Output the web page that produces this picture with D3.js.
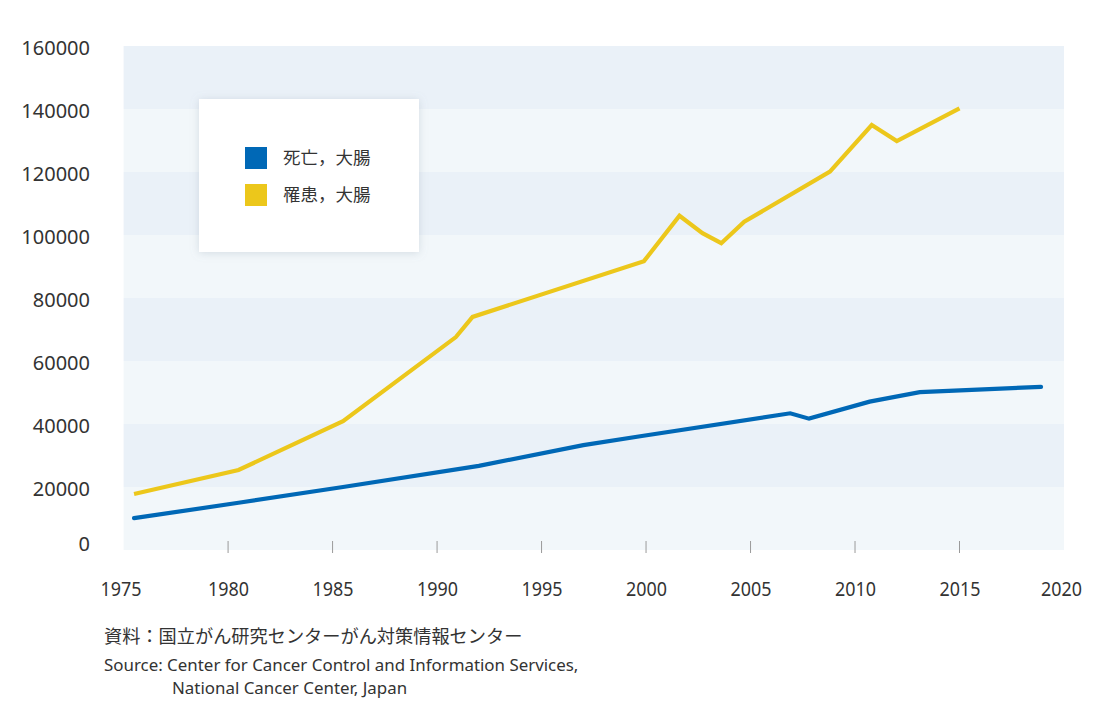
<!DOCTYPE html>
<html>
<head>
<meta charset="utf-8">
<script src="https://cdn.jsdelivr.net/npm/d3@7/dist/d3.min.js"></script>
<style>
  html, body { margin: 0; padding: 0; background: #ffffff; }
  svg { display: block; font-family: "Noto Sans", "Noto Sans CJK JP", sans-serif; }
</style>
</head>
<body>
<svg id="chart" width="1100" height="726"></svg>
<script>
// ---- data ----
const incidenceYears  = [1975.5, 1980.5, 1985.5, 1990.9, 1991.7, 1999.9, 2001.6, 2002.7, 2003.6, 2004.7, 2008.8, 2010.8, 2012.0, 2015.0];
const incidenceValues = [17800, 25400, 40900, 67600, 74000, 91700, 106100, 100600, 97400, 104200, 120100, 134900, 129800, 140200];
const deathYears  = [1975.5, 1980.5, 1985.5, 1992.0, 1997.0, 1999.8, 2006.9, 2007.8, 2010.7, 2013.1, 2018.9];
const deathValues = [10100, 15000, 20000, 26700, 33300, 36200, 43400, 41700, 47100, 50100, 51800];
const xTicks = [1975, 1980, 1985, 1990, 1995, 2000, 2005, 2010, 2015, 2020];
const xTickMarks = [1980, 1985, 1990, 1995, 2000, 2005, 2010, 2015];
const yTicks = [0, 20000, 40000, 60000, 80000, 100000, 120000, 140000, 160000];
const seriesNames = ["死亡，大腸", "罹患，大腸"];
const seriesColors = ["#0068b6", "#ecc71b"];
const sourceJa = "資料：国立がん研究センターがん対策情報センター";
const sourceEn1 = "Source: Center for Cancer Control and Information Services,";
const sourceEn2 = "National Cancer Center, Japan";

const svg = d3.select("#chart");
const x = d3.scaleLinear().domain([1975, 2020]).range([123.6, 1064]);
const y = d3.scaleLinear().domain([0, 160000]).range([550, 46]);

// shadow filter
const defs = svg.append("defs");
const f = defs.append("filter").attr("id", "sh").attr("x", "-20%").attr("y", "-20%").attr("width", "140%").attr("height", "140%");
f.append("feDropShadow").attr("dx", 0).attr("dy", 1).attr("stdDeviation", 4).attr("flood-color", "#8a9aab").attr("flood-opacity", 0.3);

// background bands
const bands = d3.range(yTicks.length - 1).map(i => [yTicks[i], yTicks[i + 1]]);
svg.append("g").selectAll("rect").data(bands).join("rect")
  .attr("x", x(1975)).attr("width", x(2020) - x(1975))
  .attr("y", d => y(d[1])).attr("height", d => y(d[0]) - y(d[1]))
  .attr("fill", (d, i) => i % 2 === 0 ? "#f2f7fa" : "#eaf1f8");

// x axis tick marks
svg.append("g").selectAll("line").data(xTickMarks).join("line")
  .attr("x1", d => x(d)).attr("x2", d => x(d))
  .attr("y1", 541).attr("y2", 553)
  .attr("stroke", "#9a9a9a").attr("stroke-width", 1);

// x axis labels via d3 axis
const xAxis = d3.axisBottom(x).tickValues(xTicks).tickFormat(d3.format("d")).tickSize(0).tickPadding(0);
const gx = svg.append("g").attr("transform", "translate(0,582)").call(xAxis);
gx.select(".domain").remove();
gx.selectAll("text")
  .attr("fill", "#333").attr("font-size", 20)
  .attr("dy", "0.71em")
  .attr("textLength", 41).attr("lengthAdjust", "spacingAndGlyphs")
  .attr("font-family", "Noto Sans")
  .attr("x", d => d === 1975 ? -3 : (d === 2020 ? -3 : 0));

// y axis labels
const yAxis = d3.axisLeft(y).tickValues(yTicks).tickFormat(d3.format("d")).tickSize(0).tickPadding(0);
const gy = svg.append("g").attr("transform", "translate(90,0)").call(yAxis);
gy.select(".domain").remove();
gy.selectAll("text")
  .attr("fill", "#333").attr("font-size", 20).attr("font-family", "Noto Sans")
  .attr("dy", d => d === 0 ? "-0.0em" : "0.42em");

// lines
const line = d3.line().x(d => x(d[0])).y(d => y(d[1]));
const deathData = deathYears.map((yr, i) => [yr, deathValues[i]]);
const incData = incidenceYears.map((yr, i) => [yr, incidenceValues[i]]);
svg.append("path").datum(deathData).attr("d", line)
  .attr("fill", "none").attr("stroke", seriesColors[0]).attr("stroke-width", 4.2).attr("stroke-linejoin", "miter").attr("stroke-linecap", "round");
svg.append("path").datum(incData).attr("d", line)
  .attr("fill", "none").attr("stroke", seriesColors[1]).attr("stroke-width", 4.2).attr("stroke-linejoin", "miter").attr("stroke-linecap", "butt");

// legend
const lg = svg.append("g");
lg.append("rect").attr("x", 199).attr("y", 99).attr("width", 220).attr("height", 153)
  .attr("fill", "#ffffff").attr("filter", "url(#sh)");
seriesNames.forEach((name, i) => {
  const yy = 147 + i * 37;
  lg.append("rect").attr("x", 245).attr("y", yy).attr("width", 22).attr("height", 22).attr("fill", seriesColors[i]);
  lg.append("text").attr("x", 283).attr("y", yy + 11).attr("dy", "0.36em")
    .attr("font-size", 17.5).attr("fill", "#333")
    .attr("font-family", "Noto Sans CJK JP")
    .text(name);
});

// source
svg.append("text").attr("x", 104).attr("y", 643).attr("font-size", 18.2).attr("fill", "#333")
  .attr("font-family", "Noto Sans CJK JP").text(sourceJa);
svg.append("text").attr("x", 104).attr("y", 671).attr("font-size", 16.9).attr("fill", "#333")
  .attr("font-family", "Noto Sans").text(sourceEn1);
svg.append("text").attr("x", 172).attr("y", 694).attr("font-size", 16.9).attr("fill", "#333")
  .attr("font-family", "Noto Sans").text(sourceEn2);
</script>
</body>
</html>
